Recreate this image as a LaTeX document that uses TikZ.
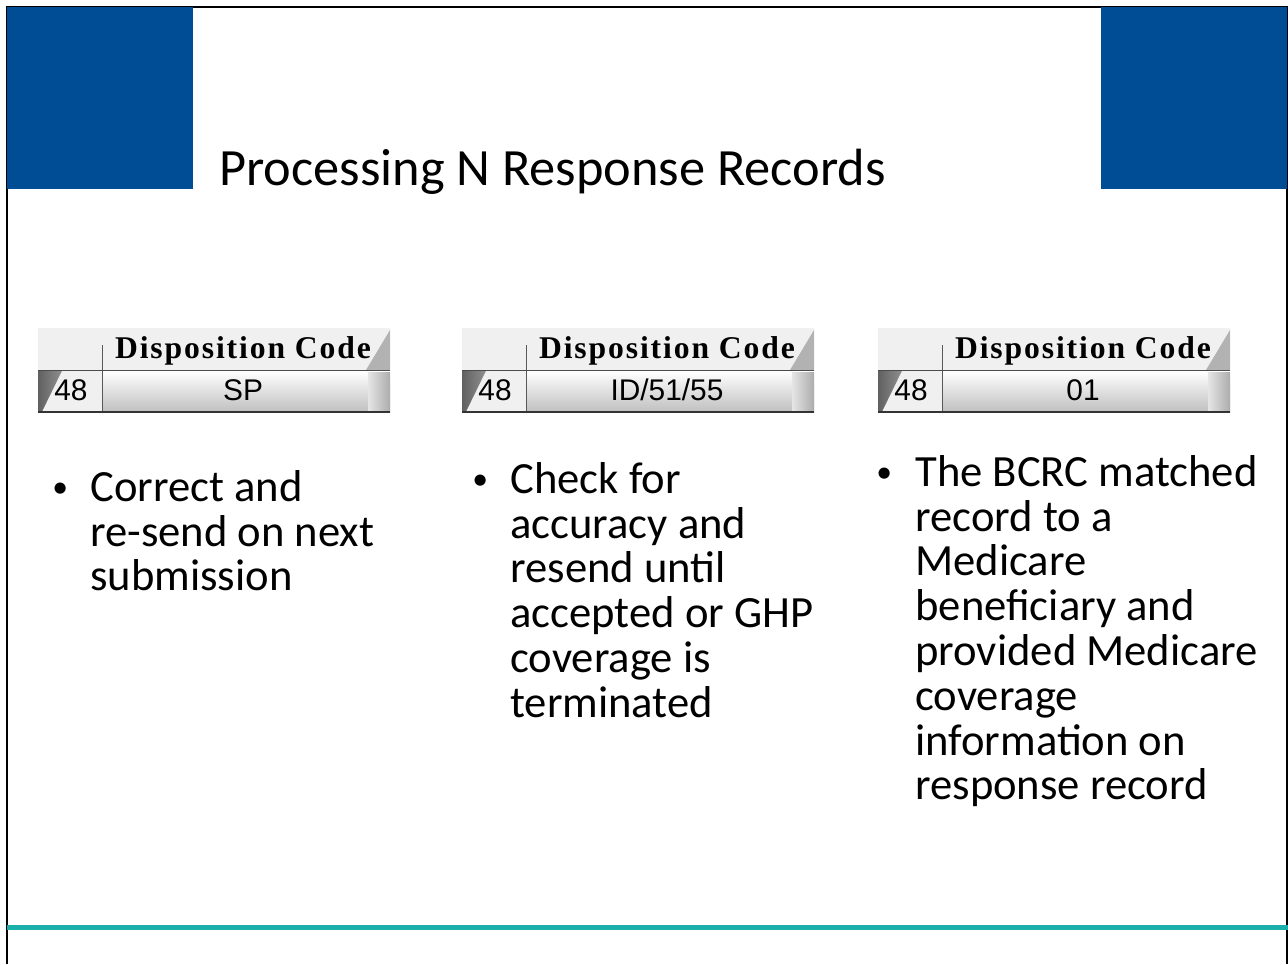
\documentclass[tikz,border=0pt]{standalone}
\usepackage{fontspec}
\setmainfont{Carlito}
\newfontfamily\hdrfont[LetterSpace=6]{Liberation Serif}
\newfontfamily\codefont{Liberation Sans}
\usetikzlibrary{positioning,calc}
\definecolor{slideBlue}{HTML}{004D95}
\definecolor{ruleTeal}{HTML}{1AAFAA}
\newcommand{\dispbox}[3]{%
	% #1 name, #2 left x, #3 code
	\fill[gray!12] (#2,328) rectangle ++(352,85);
	\shade[top color=white,bottom color=gray!50] (#2+64,371) rectangle (#2+352,412);
	\shade[left color=gray!75!black,right color=gray!25] (#2,371) rectangle (#2+64,412);
	\fill[white!88!gray] (#2+24,371) -- (#2+64,371) -- (#2+64,412) -- (#2+4,412) -- cycle;
	\fill[gray!60] (#2+328,370) -- (#2+352,330) -- (#2+352,370) -- cycle;
	\shade[left color=gray!20,right color=gray!65] (#2+330,372) rectangle (#2+352,412);
	\draw[gray!70!black] (#2+64,345) -- (#2+64,412);
	\draw[gray!60!black] (#2,370) -- (#2+352,370);
	\draw[gray!40!black,line width=1.5pt] (#2,412) -- (#2+352,412);
	\node[hdr] (#1h) at (#2+205,351) {Disposition Code};
	\node[code] (#1c) at (#2+205,390) {#3};
	\node[code] (#1n) at (#2+33,390) {48};
}
\begin{document}
\begin{tikzpicture}[x=0.02cm,y=-0.02cm,
	hdr/.style={font=\hdrfont\bfseries\fontsize{18}{18}\selectfont, inner sep=0},
	code/.style={font=\codefont\fontsize{17}{17}\selectfont, inner sep=0},
	bul/.style={font=\fontsize{18}{25.5}\selectfont, anchor=base west, inner sep=0},
	txt/.style={font=\fontsize{25.4}{25.5}\selectfont, anchor=north west, inner sep=0,
		align=left}]
	\useasboundingbox (0,0) rectangle (1288,964);
	\draw[black, line width=0.6pt] (7,964) -- (7,7) -- (1287,7) -- (1287,964);
	\fill[slideBlue] (7,7) rectangle (193,189);
	\fill[slideBlue] (1101,7) rectangle (1287,189);
	\fill[ruleTeal] (7,925) rectangle (1288,930);
	\node[anchor=west, inner sep=0, font=\fontsize{29.8}{34}\selectfont] (title) at (219,172) {Processing N Response Records};

	\dispbox{sp}{38}{SP}
	\dispbox{id}{462}{ID/51/55}
	\dispbox{ok}{878}{01}

	\node[txt] (t1) at (90,470) {Correct and\\re-send on next\\submission};
	\node[bul] (b1) at (52,497) {•};
	\node[txt] (t2) at (510,462) {Check for\\accuracy and\\resend until\\accepted or GHP\\coverage is\\terminated};
	\node[bul] (b2) at (472,489) {•};
	\node[txt] (t3) at (915,455) {The BCRC matched\\record to a\\Medicare\\beneficiary and\\provided Medicare\\coverage\\information on\\response record};
	\node[bul] (b3) at (876,482) {•};
\end{tikzpicture}
\end{document}
